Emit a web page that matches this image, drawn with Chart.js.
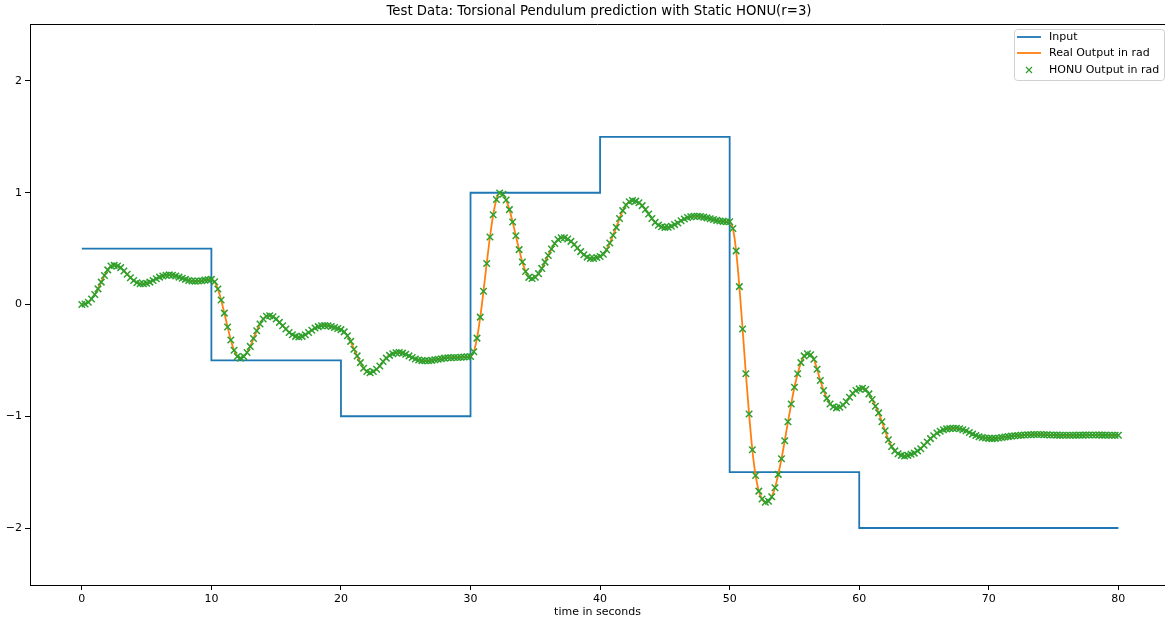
<!DOCTYPE html>
<html>
<head>
<meta charset="utf-8">
<script src="https://cdn.jsdelivr.net/npm/chart.js@4/dist/chart.umd.min.js"></script>
<style>
  body { margin: 0; background: #fff; }
  #wrap { width: 1165px; height: 622px; }
</style>
</head>
<body>
<div id="wrap"><canvas id="myChart" width="1165" height="622"></canvas></div>
<script>
// step input (value holds from each time until the next one)
const inputTimes = [0, 10, 20, 30, 40, 50, 60, 80];
const inputValues = [0.5, -0.5, -1, 1, 1.5, -1.5, -2, -2];

// pendulum angle, one value every 0.25 s from t = 0 to 80
const sampleStep = 0.25;
const realOutput = [
  // 0 - 10
  0.00, 0.005, 0.02, 0.05, 0.09, 0.14, 0.20, 0.26, 0.31, 0.345, 0.35, 0.345, 0.33, 0.30, 0.27, 0.24,
  0.215, 0.195, 0.185, 0.185, 0.19, 0.20, 0.215, 0.23, 0.245, 0.255, 0.262, 0.265, 0.262, 0.255,
  0.245, 0.235, 0.225, 0.215, 0.21, 0.208, 0.21, 0.213, 0.218, 0.222, 0.225,
  // 10 - 20
  0.203, 0.139, 0.041, -0.077, -0.202, -0.318, -0.41, -0.466, -0.48, -0.465, -0.43, -0.375, -0.305,
  -0.235, -0.175, -0.13, -0.105, -0.10, -0.11, -0.13, -0.16, -0.19, -0.22, -0.25, -0.27, -0.285,
  -0.29, -0.285, -0.27, -0.25, -0.23, -0.21, -0.198, -0.19, -0.188, -0.19, -0.197, -0.205, -0.215, -0.225,
  // 20 - 30
  -0.245, -0.28, -0.33, -0.40, -0.46, -0.52, -0.57, -0.60, -0.61, -0.60, -0.58, -0.55, -0.51, -0.48,
  -0.455, -0.44, -0.432, -0.43, -0.435, -0.445, -0.46, -0.475, -0.488, -0.497, -0.502, -0.504, -0.503,
  -0.50, -0.495, -0.49, -0.485, -0.48, -0.477, -0.476, -0.475, -0.474, -0.472, -0.47, -0.468, -0.465,
  // 30 - 40
  -0.423, -0.301, -0.113, 0.119, 0.367, 0.604, 0.803, 0.939, 0.998, 0.987, 0.935, 0.849, 0.739, 0.615,
  0.491, 0.381, 0.295, 0.243, 0.232, 0.244, 0.276, 0.323, 0.379, 0.439, 0.497, 0.546, 0.581, 0.598,
  0.598, 0.586, 0.565, 0.537, 0.505, 0.473, 0.445, 0.424, 0.412, 0.412, 0.42, 0.43,
  // 40 - 50
  0.45, 0.49, 0.55, 0.62, 0.69, 0.77, 0.84, 0.89, 0.92, 0.93, 0.925, 0.91, 0.885, 0.85, 0.81, 0.77,
  0.735, 0.71, 0.695, 0.69, 0.692, 0.70, 0.715, 0.73, 0.75, 0.765, 0.778, 0.786, 0.79, 0.79, 0.787,
  0.782, 0.775, 0.768, 0.76, 0.753, 0.748, 0.744, 0.741, 0.74,
  // 50 - 60
  0.68, 0.48, 0.16, -0.22, -0.62, -0.98, -1.30, -1.53, -1.67, -1.74, -1.77, -1.76, -1.72, -1.64, -1.52,
  -1.38, -1.22, -1.05, -0.89, -0.74, -0.62, -0.52, -0.46, -0.44, -0.45, -0.49, -0.58, -0.68, -0.77,
  -0.84, -0.89, -0.915, -0.925, -0.92, -0.90, -0.87, -0.83, -0.795, -0.77, -0.755,
  // 60 - 70
  -0.75, -0.76, -0.80, -0.85, -0.91, -0.97, -1.05, -1.13, -1.21, -1.27, -1.31, -1.335, -1.35, -1.355,
  -1.35, -1.34, -1.33, -1.31, -1.29, -1.26, -1.23, -1.20, -1.175, -1.15, -1.135, -1.12, -1.113, -1.11,
  -1.108, -1.108, -1.112, -1.12, -1.13, -1.145, -1.16, -1.172, -1.183, -1.19, -1.195, -1.198,
  // 70 - 80
  -1.20, -1.198, -1.195, -1.19, -1.186, -1.182, -1.178, -1.175, -1.172, -1.17, -1.168, -1.166, -1.165,
  -1.164, -1.164, -1.164, -1.165, -1.166, -1.167, -1.168, -1.169, -1.17, -1.17, -1.17, -1.17, -1.17,
  -1.17, -1.169, -1.169, -1.168, -1.168, -1.168, -1.168, -1.168, -1.169, -1.169, -1.17, -1.17, -1.17, -1.17
];
// the model output sits on top of the real one everywhere on the plot
const honuOutput = realOutput.slice();

const xTicks = [0, 10, 20, 30, 40, 50, 60, 70, 80];
const yTicks = [-2, -1, 0, 1, 2];

const FONT = "'DejaVu Sans', 'Liberation Sans', sans-serif";
const BLUE = "#1f77b4";
const ORANGE = "#ff7f0e";
const GREEN = "#2ca02c";

const toPoints = (vals) => vals.map((v, i) => ({ x: i * sampleStep, y: v }));

const inputPoints = inputTimes.map((t, i) => ({ x: t, y: inputValues[i] }));

// title, top spine and legend box drawn the matplotlib way
const extras = {
  id: "extras",
  afterDraw(chart) {
    const { ctx, chartArea } = chart;
    ctx.save();

    ctx.strokeStyle = "#000";
    ctx.lineWidth = 1;
    ctx.beginPath();
    ctx.moveTo(chartArea.left, chartArea.top + 0.5);
    ctx.lineTo(chartArea.right, chartArea.top + 0.5);
    ctx.stroke();

    ctx.fillStyle = "#000";
    ctx.font = "13.3px " + FONT;
    ctx.textAlign = "center";
    ctx.textBaseline = "middle";
    ctx.fillText("Test Data: Torsional Pendulum prediction with Static HONU(r=3)", 599, 12);

    // legend
    const bx = 1014.5, by = 29.5, bw = 150, bh = 51;
    ctx.fillStyle = "rgba(255,255,255,0.8)";
    ctx.strokeStyle = "#d0d0d0";
    ctx.lineWidth = 1;
    ctx.beginPath();
    ctx.roundRect(bx, by, bw, bh, 3);
    ctx.fill();
    ctx.stroke();

    const rows = [37, 53, 70];
    const labels = chart.data.datasets.map((d) => d.label);
    ctx.lineWidth = 1.8;
    ctx.strokeStyle = BLUE;
    ctx.beginPath();
    ctx.moveTo(1017, rows[0]);
    ctx.lineTo(1041, rows[0]);
    ctx.stroke();
    ctx.strokeStyle = ORANGE;
    ctx.beginPath();
    ctx.moveTo(1017, rows[1]);
    ctx.lineTo(1041, rows[1]);
    ctx.stroke();
    ctx.strokeStyle = GREEN;
    ctx.lineWidth = 1.2;
    ctx.beginPath();
    ctx.moveTo(1026, rows[2] - 3);
    ctx.lineTo(1032, rows[2] + 3);
    ctx.moveTo(1026, rows[2] + 3);
    ctx.lineTo(1032, rows[2] - 3);
    ctx.stroke();

    ctx.fillStyle = "#000";
    ctx.font = "11px " + FONT;
    ctx.textAlign = "left";
    labels.forEach((text, i) => ctx.fillText(text, 1049, rows[i]));

    ctx.restore();
  },
};

const config = {
  type: "line",
  data: {
    datasets: [
      {
        label: "Input",
        data: inputPoints,
        borderColor: BLUE,
        borderWidth: 1.8,
        pointRadius: 0,
        stepped: "before",
        order: 2,
      },
      {
        label: "Real Output in rad",
        data: toPoints(realOutput),
        borderColor: ORANGE,
        borderWidth: 1.8,
        pointRadius: 0,
        cubicInterpolationMode: "monotone",
        order: 1,
      },
      {
        label: "HONU Output in rad",
        data: toPoints(honuOutput),
        showLine: false,
        pointStyle: "crossRot",
        pointRadius: 4.6,
        pointBorderColor: GREEN,
        pointBackgroundColor: GREEN,
        pointBorderWidth: 1.5,
        order: 0,
      },
    ],
  },
  options: {
    responsive: false,
    animation: false,
    layout: { autoPadding: false, padding: { top: 24, left: 0, right: 0, bottom: 0 } },
    plugins: {
      legend: { display: false },
      tooltip: { enabled: false },
    },
    scales: {
      x: {
        type: "linear",
        min: -4,
        max: 83.6,
        afterBuildTicks: (scale) => {
          scale.ticks = xTicks.map((v) => ({ value: v }));
        },
        afterFit: (scale) => {
          scale.height = 37;
        },
        grid: { drawOnChartArea: false, tickLength: 5, color: "#000" },
        border: { display: true, color: "#000", width: 1 },
        ticks: { color: "#000", font: { family: FONT, size: 11 }, padding: 3, maxRotation: 0 },
        title: {
          display: true,
          text: "time in seconds",
          color: "#000",
          font: { family: FONT, size: 11 },
          padding: { top: 0, bottom: 3 },
        },
      },
      y: {
        type: "linear",
        min: -2.51,
        max: 2.51,
        afterBuildTicks: (scale) => {
          scale.ticks = yTicks.map((v) => ({ value: v }));
        },
        afterFit: (scale) => {
          scale.width = 30;
        },
        grid: { drawOnChartArea: false, tickLength: 5, color: "#000" },
        border: { display: true, color: "#000", width: 1 },
        ticks: {
          color: "#000",
          font: { family: FONT, size: 11 },
          padding: 3,
          callback: (v) => (v < 0 ? "\u2212" + Math.abs(v) : String(v)),
        },
      },
    },
  },
  plugins: [extras],
};

const myChart = new Chart(document.getElementById("myChart").getContext("2d"), config);
</script>
</body>
</html>
